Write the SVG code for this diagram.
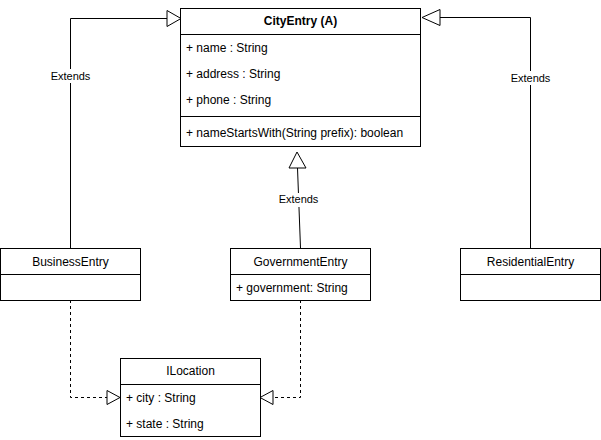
<svg xmlns="http://www.w3.org/2000/svg" width="601" height="440" viewBox="0 0 601 440">
<style>
.box{fill:#fff;stroke:#000;stroke-width:1}
.ln{fill:none;stroke:#000;stroke-width:1}
.dash{fill:none;stroke:#000;stroke-width:1;stroke-dasharray:3,3}
.tri{fill:#fff;stroke:#000;stroke-width:1}
text{font-family:"Liberation Sans",Arial,sans-serif;font-size:12px;fill:#000}
.c{text-anchor:middle}
.b{font-weight:bold}
.lbl{font-size:11px;text-anchor:middle}
</style>
<rect width="601" height="440" fill="#fff"/>
<g id="connectors">
<polyline class="ln" points="70.5,248 70.5,18.5 167,18.5"/>
<polygon class="tri" points="167,10.5 181,18.5 167,26.5"/>
<rect x="50" y="69" width="41" height="14" fill="#fff"/>
<text class="lbl" x="70.5" y="80">Extends</text>
<polyline class="ln" points="530.5,248 530.5,17.5 440,17.5"/>
<polygon class="tri" points="440,9.5 422,17.5 440,25.5"/>
<rect x="510" y="71" width="41" height="14" fill="#fff"/>
<text class="lbl" x="530.5" y="82">Extends</text>
<line class="ln" x1="297.5" y1="168" x2="300.5" y2="248"/>
<polygon class="tri" points="289,168 297,152 306,168"/>
<rect x="278" y="193" width="41" height="14" fill="#fff"/>
<text class="lbl" x="298.5" y="203">Extends</text>
<polyline class="dash" points="70.5,300 70.5,397.5 107,397.5"/>
<polygon class="tri" points="107,390.5 120,397.5 107,404.5"/>
<polyline class="dash" points="300.5,300 300.5,397.5 273,397.5"/>
<polygon class="tri" points="273,390.5 260,397.5 273,404.5"/>
</g>
<g id="CityEntry">
<rect class="box" x="180.5" y="8.5" width="240" height="138"/>
<line class="ln" x1="180.5" y1="34.5" x2="420.5" y2="34.5"/>
<line class="ln" x1="180.5" y1="116.5" x2="420.5" y2="116.5"/>
<text class="c b" x="300.5" y="25">CityEntry (A)</text>
<text x="186" y="52">+ name : String</text>
<text x="186" y="78">+ address : String</text>
<text x="186" y="104">+ phone : String</text>
<text x="186" y="137">+ nameStartsWith(String prefix): boolean</text>
</g>
<g id="BusinessEntry">
<rect class="box" x="0.5" y="248.5" width="140" height="52"/>
<line class="ln" x1="0.5" y1="274.5" x2="140.5" y2="274.5"/>
<text class="c" x="70.5" y="266">BusinessEntry</text>
</g>
<g id="GovernmentEntry">
<rect class="box" x="230.5" y="248.5" width="140" height="52"/>
<line class="ln" x1="230.5" y1="274.5" x2="370.5" y2="274.5"/>
<text class="c" x="300.5" y="266">GovernmentEntry</text>
<text x="236" y="292">+ government: String</text>
</g>
<g id="ResidentialEntry">
<rect class="box" x="460.5" y="248.5" width="140" height="52"/>
<line class="ln" x1="460.5" y1="274.5" x2="600.5" y2="274.5"/>
<text class="c" x="530.5" y="266">ResidentialEntry</text>
</g>
<g id="ILocation">
<rect class="box" x="120.5" y="358.5" width="140" height="78"/>
<line class="ln" x1="120.5" y1="384.5" x2="260.5" y2="384.5"/>
<text class="c" x="190.5" y="375">ILocation</text>
<text x="126" y="402">+ city : String</text>
<text x="126" y="428">+ state : String</text>
</g>
</svg>
